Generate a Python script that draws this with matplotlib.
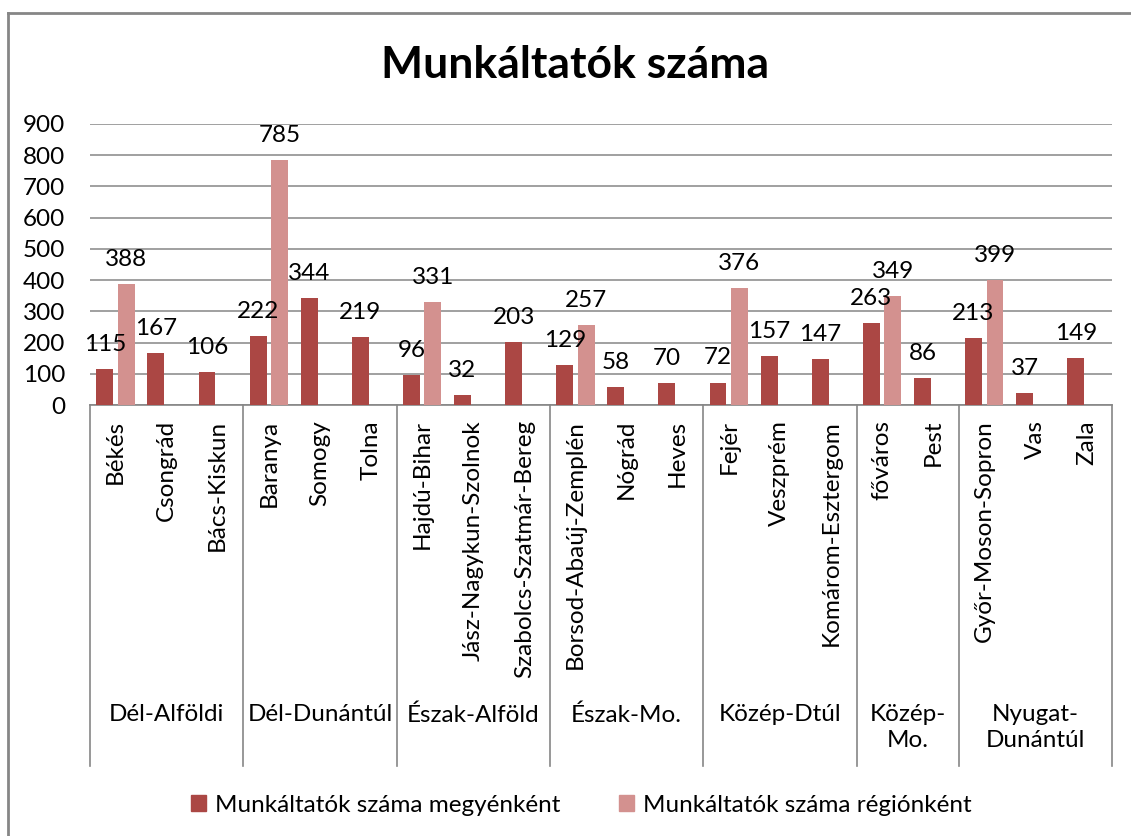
import matplotlib
matplotlib.use("Agg")
import matplotlib.pyplot as plt
from matplotlib.lines import Line2D
from matplotlib.patches import Patch

plt.rcParams['font.family'] = ['Lato', 'DejaVu Sans']

regions = ['Dél-Alföldi', 'Dél-Dunántúl', 'Észak-Alföld', 'Észak-Mo.',
           'Közép-Dtúl', 'Közép-\nMo.', 'Nyugat-\nDunántúl']
counties = [
    ['Békés', 'Csongrád', 'Bács-Kiskun'],
    ['Baranya', 'Somogy', 'Tolna'],
    ['Hajdú-Bihar', 'Jász-Nagykun-Szolnok', 'Szabolcs-Szatmár-Bereg'],
    ['Borsod-Abaúj-Zemplén', 'Nógrád', 'Heves'],
    ['Fejér', 'Veszprém', 'Komárom-Esztergom'],
    ['főváros', 'Pest'],
    ['Győr-Moson-Sopron', 'Vas', 'Zala'],
]
county_values = [
    [115, 167, 106],
    [222, 344, 219],
    [96, 32, 203],
    [129, 58, 70],
    [72, 157, 147],
    [263, 86],
    [213, 37, 149],
]
region_values = [388, 785, 331, 257, 376, 349, 399]

dark = '#AB4744'
light = '#D3918F'
grid_gray = '#868686'
fs = 17.5

W, H = 1131, 836
fig = plt.figure(figsize=(W / 100, H / 100), dpi=100)
ax = fig.add_axes([90 / W, 1 - 405 / H, (1112 - 90) / W, (405 - 124) / H])

bw = 0.33
off = 0.21
pos = 0
bounds = [0]
for r, names in enumerate(counties):
    for k, name in enumerate(names):
        cx = pos + 0.5
        v = county_values[r][k]
        ax.bar(cx - off, v, width=bw, color=dark, zorder=3)
        ax.annotate(str(v), (cx - off, v), xytext=(0, 13), textcoords='offset points',
                    ha='center', va='baseline', fontsize=fs, zorder=4)
        if k == 0:
            rv = region_values[r]
            ax.bar(cx + off, rv, width=bw, color=light, zorder=3)
            ax.annotate(str(rv), (cx + off, rv), xytext=(0, 13), textcoords='offset points',
                        ha='center', va='baseline', fontsize=fs, zorder=4)
        ax.text(cx, -15 / 281, name, transform=ax.get_xaxis_transform(),
                rotation=90, ha='center', va='top', fontsize=fs)
        pos += 1
    ax.text((bounds[-1] + pos) / 2, -(704 - 405) / 281, regions[r],
            transform=ax.get_xaxis_transform(), ha='center', va='top',
            fontsize=fs, linespacing=1.3)
    bounds.append(pos)

trans = ax.get_xaxis_transform()
for b in bounds:
    ax.add_line(Line2D([b, b], [0, -(766 - 405) / 281], transform=trans,
                       color=grid_gray, lw=1.2, clip_on=False))

ax.set_xlim(0, pos)
ax.set_ylim(0, 900)
ax.set_yticks(range(0, 901, 100))
ax.set_xticks([])
ax.yaxis.grid(True, color=grid_gray, lw=1.1, zorder=0)
ax.set_axisbelow(True)
for s in ['top', 'right', 'left']:
    ax.spines[s].set_visible(False)
ax.spines['bottom'].set_color(grid_gray)
ax.spines['bottom'].set_linewidth(1.2)
ax.tick_params(axis='y', length=0, labelsize=fs, pad=18)

fig.text(575 / W, 1 - 78 / H, 'Munkáltatók száma', ha='center', va='baseline',
         fontsize=32, fontweight='bold')

handles = [Patch(color=dark, label='Munkáltatók száma megyénként'),
           Patch(color=light, label='Munkáltatók száma régiónként')]
fig.legend(handles=handles, loc='center', bbox_to_anchor=(581 / W, 1 - 805 / H),
           ncol=2, frameon=False, fontsize=fs, handlelength=0.65, handleheight=0.65,
           handletextpad=0.35, columnspacing=2.4)

fig.add_artist(Line2D([8 / W, 8 / W], [0, 1 - 13 / H], transform=fig.transFigure,
                      color=grid_gray, lw=2))
fig.add_artist(Line2D([8 / W, 1], [1 - 13 / H, 1 - 13 / H], transform=fig.transFigure,
                      color=grid_gray, lw=2))

fig.savefig('out.png', dpi=100)
